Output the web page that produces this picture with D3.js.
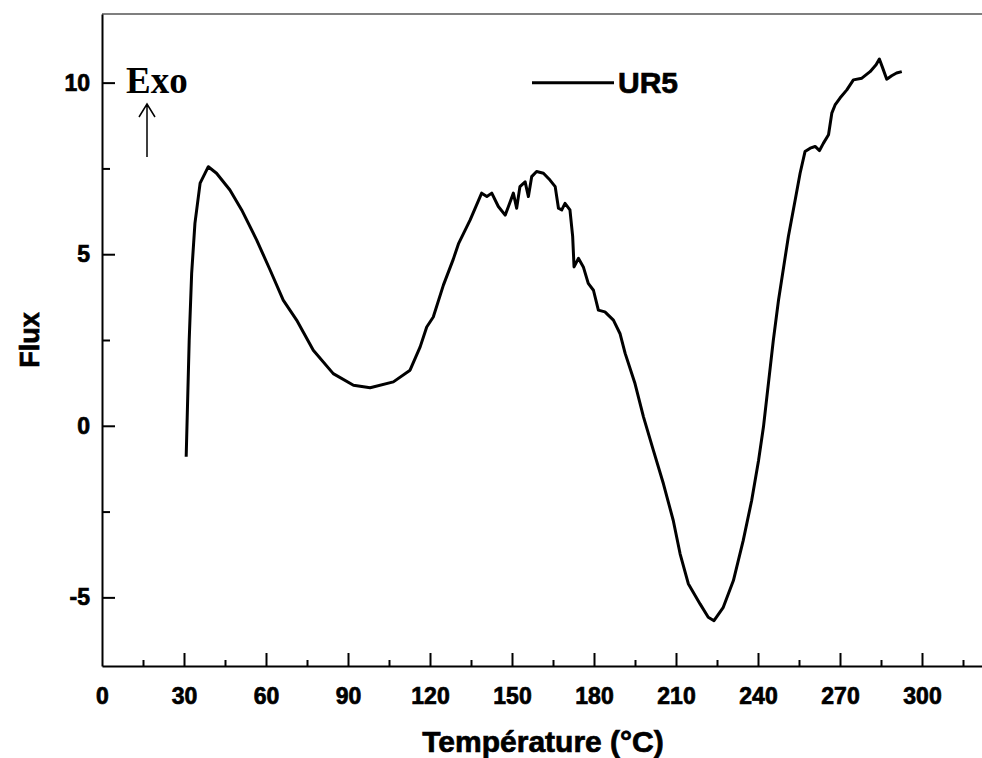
<!DOCTYPE html>
<html>
<head>
<meta charset="utf-8">
<script src="https://cdn.jsdelivr.net/npm/d3@7"></script>
<style>
    body { margin: 0; background: #fff; }
    text { font-family: "Liberation Sans", Arial, sans-serif; font-weight: bold; }
    .heavy { stroke: #000; stroke-width: 0.7px; }
</style>
</head>
<body>
<div id="chart"></div>
<script>
// DSC curve
var temperature = [30.8, 31.9, 32.8, 34.0, 35.9, 38.9, 41.9, 46.8, 51.1, 56.6, 61.5, 66.3, 71.2, 77.3, 84.6,
    92.0, 98.1, 106.6, 112.7, 116.4, 118.8, 121.2, 124.9, 128.5, 130.4, 134.7, 138.9, 140.8, 142.6, 145.0,
    147.5, 148.7, 150.5, 151.7, 152.9, 154.8, 156.0, 157.2, 159.0, 161.5, 163.9, 165.8, 167.0, 168.2, 169.4,
    171.2, 172.2, 172.7, 174.3, 176.1, 177.9, 179.8, 181.6, 184.0, 187.1, 189.5, 191.4, 195.0, 198.1, 201.7,
    205.4, 209.0, 211.5, 214.5, 218.8, 221.8, 223.9, 227.3, 231.0, 234.6, 237.7, 240.2, 242.0, 243.8, 245.6,
    247.5, 251.1, 253.6, 255.4, 257.2, 259.1, 260.9, 262.5, 263.9, 265.8, 267.0, 268.2, 270.0, 272.5, 274.9,
    278.0, 281.0, 283.2, 284.4, 285.6, 287.1, 288.9, 290.7, 292.6];
var flux = [-0.9, 2.49, 4.44, 5.90, 7.07, 7.55, 7.36, 6.87, 6.29, 5.41, 4.54, 3.66, 3.08, 2.20, 1.52,
    1.18, 1.11, 1.28, 1.62, 2.30, 2.88, 3.17, 4.1, 4.85, 5.3, 6.00, 6.78, 6.68, 6.78, 6.39,
    6.14, 6.39, 6.78, 6.34, 6.97, 7.11, 6.68, 7.26, 7.41, 7.36, 7.16, 6.97, 6.34, 6.29, 6.48,
    6.29, 5.51, 4.63, 4.88, 4.63, 4.15, 3.95, 3.37, 3.32, 3.08, 2.69, 2.11, 1.23, 0.26, -0.71,
    -1.69, -2.76, -3.73, -4.60, -5.19, -5.58, -5.68, -5.29, -4.51, -3.34, -2.17, -1.01, -0.03, 1.23, 2.49,
    3.66, 5.51, 6.58, 7.36, 7.99, 8.09, 8.14, 8.02, 8.23, 8.48, 9.11, 9.35, 9.55, 9.79, 10.08,
    10.13, 10.32, 10.52, 10.69, 10.43, 10.10, 10.20, 10.28, 10.32];

var xTicks = [0, 30, 60, 90, 120, 150, 180, 210, 240, 270, 300];
var xMinor = [15, 45, 75, 105, 135, 165, 195, 225, 255, 285, 315];
var yTicks = [-5, 0, 5, 10];
var yMinor = [-2.5, 2.5, 7.5];
var seriesName = "UR5";

var W = 982, H = 758;
var margin = {top: 14, left: 102, bottom: 92};
var plotH = H - margin.top - margin.bottom;

var svg = d3.select("#chart").append("svg")
    .attr("width", W)
    .attr("height", H);

var x = d3.scaleLinear().domain([0, 330]).range([margin.left, margin.left + 902]);
var y = d3.scaleLinear().domain([-7, 12]).range([margin.top + plotH, margin.top]);
var plain = function(d){ return String(d); }; // hyphen minus like the original

// frame: top line (grey), left + bottom axis
svg.append("line")
    .attr("x1", x(0)).attr("x2", W)
    .attr("y1", y(12)).attr("y2", y(12))
    .attr("stroke", "#555").attr("stroke-width", 1.5);

var gX = svg.append("g")
    .attr("transform", "translate(0," + y(-7) + ")")
    .call(d3.axisBottom(x).tickValues(xTicks).tickFormat(plain).tickSize(-13).tickPadding(22).tickSizeOuter(0));
gX.selectAll(".tick").filter(function(d){ return d === 0; }).select("line").remove();
svg.append("g")
    .attr("transform", "translate(0," + y(-7) + ")")
    .call(d3.axisBottom(x).tickValues(xMinor).tickSize(-6).tickFormat("").tickSizeOuter(0))
    .select(".domain").remove();

var gY = svg.append("g")
    .attr("transform", "translate(" + x(0) + ",0)")
    .call(d3.axisLeft(y).tickValues(yTicks).tickFormat(plain).tickSize(-13).tickPadding(12).tickSizeOuter(0));
svg.append("g")
    .attr("transform", "translate(" + x(0) + ",0)")
    .call(d3.axisLeft(y).tickValues(yMinor).tickSize(-8).tickFormat("").tickSizeOuter(0))
    .select(".domain").remove();

svg.selectAll(".domain").attr("stroke", "#000").attr("stroke-width", 2);
svg.selectAll(".tick line").attr("stroke", "#000").attr("stroke-width", 2);
gX.selectAll("text").attr("font-size", 23).attr("fill", "#000").attr("dy", "0.68em").classed("heavy", true);
gY.selectAll("text").attr("font-size", 23).attr("fill", "#000").classed("heavy", true);

// axis titles
svg.append("text")
    .attr("class", "heavy")
    .attr("x", 543).attr("y", 752)
    .attr("text-anchor", "middle")
    .attr("font-size", 30)
    .text("Température (°C)");

svg.append("text")
    .attr("class", "heavy")
    .attr("transform", "translate(39," + 340 + ") rotate(-90)")
    .attr("text-anchor", "middle")
    .attr("font-size", 27)
    .text("Flux");

// curve
var line = d3.line()
    .x(function(d, i){ return x(temperature[i]); })
    .y(function(d){ return y(d); })
    .curve(d3.curveLinear);

svg.append("path")
    .datum(flux)
    .attr("d", line)
    .attr("fill", "none")
    .attr("stroke", "#000")
    .attr("stroke-width", 3)
    .attr("stroke-linejoin", "round");

// legend
svg.append("line")
    .attr("x1", 532).attr("x2", 614)
    .attr("y1", y(10)).attr("y2", y(10))
    .attr("stroke", "#000").attr("stroke-width", 3);
svg.append("text")
    .attr("class", "heavy")
    .attr("x", 618).attr("y", 93)
    .attr("font-size", 30)
    .text(seriesName);

// Exo annotation
svg.append("text")
    .attr("x", 126).attr("y", 93)
    .style("font-family", "'Liberation Serif', 'Times New Roman', serif")
    .attr("font-size", 37)
    .text("Exo");

var ax = 147;
svg.append("path")
    .attr("d", "M" + ax + ",157 L" + ax + ",104 M" + (ax - 8) + ",117 L" + ax + ",104 L" + (ax + 8) + ",117")
    .attr("fill", "none")
    .attr("stroke", "#000")
    .attr("stroke-width", 1.5);
</script>
</body>
</html>
